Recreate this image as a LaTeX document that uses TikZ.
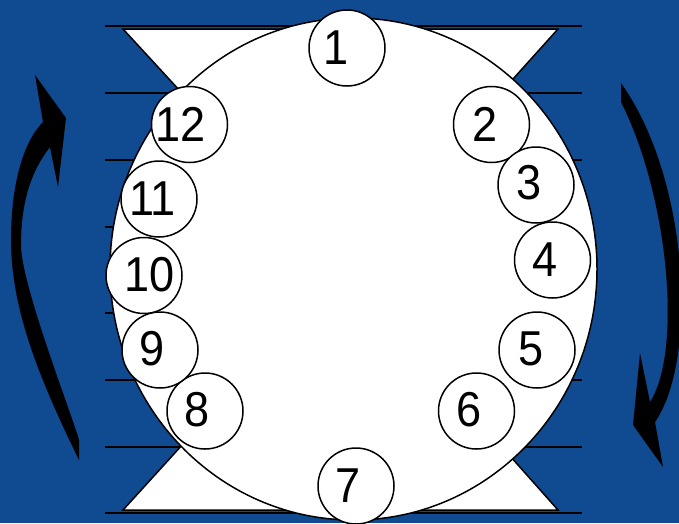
\documentclass[tikz,border=0pt]{standalone}
\usepackage{fontspec}
\setmainfont{Liberation Sans}
\newfontfamily\digitfont[FakeStretch=0.92]{Liberation Sans}
\definecolor{bgblue}{RGB}{16,74,144}
\begin{document}
\begin{tikzpicture}[x=1pt,y=-1pt,
  hline/.style={line width=2pt,draw=black},
  tri/.style={fill=white,draw=black,line width=1.5pt,line join=miter},
  bigdisc/.style={fill=white,draw=black,line width=1.5pt},
  ball/.style={circle,draw=black,fill=white,line width=1.5pt,minimum size=76pt,inner sep=0pt},
  num/.style={inner sep=0pt,font=\digitfont\fontsize{49}{49}\selectfont},
  bigarrow/.style={fill=black}]
\fill[bgblue] (0,0) rectangle (679,523);
\useasboundingbox (0,0) rectangle (679,523);
% horizontal lines
\foreach \y in {26,93,160,227,313,380,447,513}
  \draw[hline] (105,\y) -- (582,\y);
% hourglass
\coordinate (apex) at (343,268);
\filldraw[tri] (123,29) -- (558,29) -- (apex) -- cycle;
\filldraw[tri] (123,510) -- (558,510) -- (apex) -- cycle;
% big disc
\filldraw[bigdisc] (353.5,269) ellipse [x radius=243.5pt, y radius=251pt];
% small circles
\node[ball] (b1)  at (347,48) {};
\node[ball] (b2)  at (491.5,124.5) {};
\node[ball] (b3)  at (536,185) {};
\node[ball] (b4)  at (552.5,260) {};
\node[ball] (b5)  at (537,350) {};
\node[ball] (b6)  at (476.5,411) {};
\node[ball] (b7)  at (356,486) {};
\node[ball] (b8)  at (205,411) {};
\node[ball] (b9)  at (160,350) {};
\node[ball] (b10) at (144,275.5) {};
\node[ball] (b11) at (159,199) {};
\node[ball] (b12) at (189.5,124.5) {};
% numbers
\node[num] (t1)  at (336,48) {1};
\node[num] (t2)  at (485,124) {2};
\node[num] (t3)  at (529.5,183) {3};
\node[num] (t4)  at (545,259.5) {4};
\node[num] (t5)  at (531,349) {5};
\node[num] (t6)  at (469.5,410) {6};
\node[num] (t7)  at (348.5,486) {7};
\node[num] (t8)  at (197,410) {8};
\node[num] (t9)  at (152,349) {9};
\node[num] (t10) at (150,274.5) {10};
\node[num] (t11) at (152.5,199) {11};
\node[num] (t12) at (181,124.5) {12};
% left curved arrow (upwards)
\fill[bigarrow] (79,460) .. controls (40,380) and (11,310) .. (11,240)
  .. controls (11,180) and (25,140) .. (43,122)
  -- (35,75) -- (66,118) -- (58,187) -- (50,147)
  .. controls (32,170) and (21,200) .. (21,245)
  .. controls (21,285) and (74,420) .. (79,440) -- cycle;
% right curved arrow (downwards)
\fill[bigarrow] (621,83) .. controls (690,180) and (698,360) .. (655,422)
  -- (663,467) -- (633,425) -- (640,353) -- (650,402)
  .. controls (683,350) and (668,195) .. (621,102) -- cycle;
\end{tikzpicture}
\end{document}
